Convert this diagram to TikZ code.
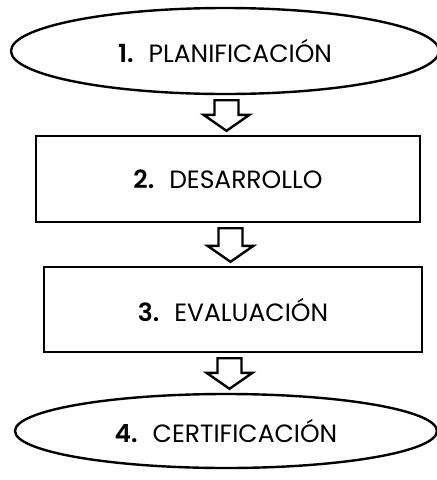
\documentclass[tikz,border=0pt]{standalone}
\usepackage{fontspec}
\setmainfont{Poppins}[BoldFont={Poppins SemiBold}]
\usetikzlibrary{shapes.geometric}
\usetikzlibrary{calc}
\pgfdeclarelayer{nodelayer}
\pgfdeclarelayer{edgelayer}
\pgfsetlayers{edgelayer,nodelayer,main}
\newcommand{\stagetext}[2]{\textbf{#1.}\hspace{0.6em}#2}
\tikzset{stage/.style={shape=ellipse, draw=black, line width=2.4pt, inner sep=0pt,
font=\fontsize{25}{30}\selectfont}}
\tikzset{phase/.style={shape=rectangle, draw=black, line width=2.4pt, inner sep=0pt,
font=\fontsize{25}{30}\selectfont}}
\tikzset{hollow/.style={draw=black, line width=2.4pt, line join=miter, to path={
let \p1=(\tikztostart), \p2=(\tikztotarget), \n1={(\x1+\x2)/2} in
(\n1-12pt,\y1-5pt) -- (\n1+12pt,\y1-5pt) -- (\n1+12pt,\y2+20pt)
-- (\n1+23pt,\y2+20pt) -- (\n1,\y2+4pt) -- (\n1-23pt,\y2+20pt)
-- (\n1-12pt,\y2+20pt) -- cycle}}}

\begin{document}
\begin{tikzpicture}[x=1pt, y=-1pt]
        \useasboundingbox (0, 0) rectangle (437, 480);
        \begin{pgfonlayer}{nodelayer}
            \node [style=stage, minimum width=428, minimum height=86] (0) at (225, 51) {\stagetext{1}{PLANIFICACIÓN}};
            \node [style=phase, minimum width=384, minimum height=86] (1) at (228, 179) {\stagetext{2}{DESARROLLO}};
            \node [style=phase, minimum width=378, minimum height=85] (2) at (233, 309.5) {\stagetext{3}{EVALUACIÓN}};
            \node [style=stage, minimum width=422, minimum height=74] (3) at (226, 431) {\stagetext{4}{CERTIFICACIÓN}};
        \end{pgfonlayer}
        \begin{pgfonlayer}{edgelayer}
            \draw [style=hollow] (0.south) to (1.north);
            \draw [style=hollow] (1.south) to (2.north);
            \draw [style=hollow] (2.south) to (3.north);
        \end{pgfonlayer}
    \end{tikzpicture}
\end{document}
